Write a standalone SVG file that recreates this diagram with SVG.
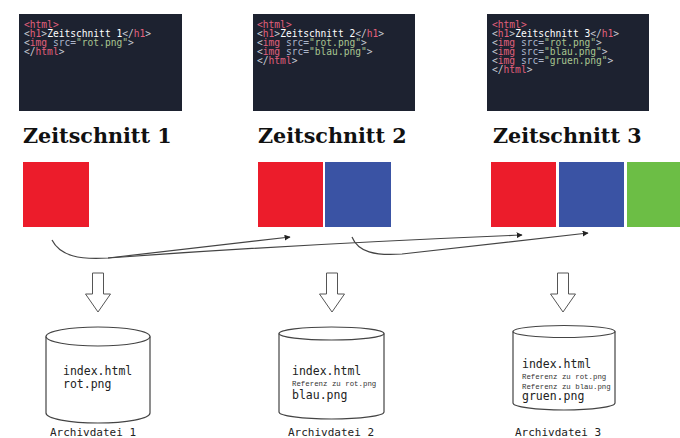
<svg xmlns="http://www.w3.org/2000/svg" width="680" height="438" viewBox="0 0 680 438">
<style>
.code{fill:#1d2230}
.ct{font-family:"DejaVu Sans Mono","Liberation Mono",monospace;font-size:9.6px;fill:#ffffff}
.tg{fill:#e2607c}
.pn{fill:#c8ccd4}
.at{fill:#aab4c8}
.st{fill:#a9c690}
.hd{font-family:"DejaVu Serif","Liberation Serif",serif;font-weight:bold;font-size:20.7px;fill:#111}
.red{fill:#ec1c2b}
.blue{fill:#3a53a4}
.green{fill:#6cbe45}
.conn{fill:none;stroke:#444;stroke-width:1.2}
.down{fill:#fff;stroke:#555;stroke-width:1}
.cyl{fill:#fff;stroke:#444;stroke-width:1.2}
.ft{font-family:"DejaVu Sans Mono","Liberation Mono",monospace;font-size:11.5px;fill:#222}
.sm{font-family:"Liberation Mono","DejaVu Sans Mono",monospace;font-size:7.4px;fill:#333}
.lb{font-family:"DejaVu Sans Mono","Liberation Mono",monospace;font-size:11px;fill:#222}
</style>
<defs>
<marker id="ah" viewBox="0 0 10 10" refX="9" refY="5" markerWidth="5" markerHeight="5" orient="auto">
<path d="M0,0 L10,5 L0,10 z" fill="#222"/>
</marker>
</defs>
<rect width="680" height="438" fill="#fff"/>

<g id="code1">
<rect class="code" x="19" y="14" width="163" height="97"/>
<text class="ct" x="24" y="28"><tspan class="tg">&lt;html&gt;</tspan></text>
<text class="ct" x="24" y="37"><tspan class="pn">&lt;</tspan><tspan class="tg">h1</tspan><tspan class="pn">&gt;</tspan>Zeitschnitt 1<tspan class="pn">&lt;/</tspan><tspan class="tg">h1</tspan><tspan class="pn">&gt;</tspan></text>
<text class="ct" x="24" y="46"><tspan class="pn">&lt;</tspan><tspan class="tg">img</tspan> <tspan class="at">src=</tspan><tspan class="st">"rot.png"</tspan><tspan class="pn">&gt;</tspan></text>
<text class="ct" x="24" y="55"><tspan class="pn">&lt;/</tspan><tspan class="tg">html</tspan><tspan class="pn">&gt;</tspan></text>
</g>

<g id="code2">
<rect class="code" x="253" y="14" width="162" height="97"/>
<text class="ct" x="257" y="28"><tspan class="tg">&lt;html&gt;</tspan></text>
<text class="ct" x="257" y="37"><tspan class="pn">&lt;</tspan><tspan class="tg">h1</tspan><tspan class="pn">&gt;</tspan>Zeitschnitt 2<tspan class="pn">&lt;/</tspan><tspan class="tg">h1</tspan><tspan class="pn">&gt;</tspan></text>
<text class="ct" x="257" y="46"><tspan class="pn">&lt;</tspan><tspan class="tg">img</tspan> <tspan class="at">src=</tspan><tspan class="st">"rot.png"</tspan><tspan class="pn">&gt;</tspan></text>
<text class="ct" x="257" y="55"><tspan class="pn">&lt;</tspan><tspan class="tg">img</tspan> <tspan class="at">src=</tspan><tspan class="st">"blau.png"</tspan><tspan class="pn">&gt;</tspan></text>
<text class="ct" x="257" y="64"><tspan class="pn">&lt;/</tspan><tspan class="tg">html</tspan><tspan class="pn">&gt;</tspan></text>
</g>

<g id="code3">
<rect class="code" x="487" y="14" width="162" height="97"/>
<text class="ct" x="492" y="28"><tspan class="tg">&lt;html&gt;</tspan></text>
<text class="ct" x="492" y="37"><tspan class="pn">&lt;</tspan><tspan class="tg">h1</tspan><tspan class="pn">&gt;</tspan>Zeitschnitt 3<tspan class="pn">&lt;/</tspan><tspan class="tg">h1</tspan><tspan class="pn">&gt;</tspan></text>
<text class="ct" x="492" y="46"><tspan class="pn">&lt;</tspan><tspan class="tg">img</tspan> <tspan class="at">src=</tspan><tspan class="st">"rot.png"</tspan><tspan class="pn">&gt;</tspan></text>
<text class="ct" x="492" y="55"><tspan class="pn">&lt;</tspan><tspan class="tg">img</tspan> <tspan class="at">src=</tspan><tspan class="st">"blau.png"</tspan><tspan class="pn">&gt;</tspan></text>
<text class="ct" x="492" y="64"><tspan class="pn">&lt;</tspan><tspan class="tg">img</tspan> <tspan class="at">src=</tspan><tspan class="st">"gruen.png"</tspan><tspan class="pn">&gt;</tspan></text>
<text class="ct" x="492" y="73"><tspan class="pn">&lt;/</tspan><tspan class="tg">html</tspan><tspan class="pn">&gt;</tspan></text>
</g>

<g id="head1"><text class="hd" x="23" y="143">Zeitschnitt 1</text></g>
<g id="head2"><text class="hd" x="258" y="143">Zeitschnitt 2</text></g>
<g id="head3"><text class="hd" x="493" y="143">Zeitschnitt 3</text></g>

<g id="images1">
<rect class="red" x="23" y="162" width="66" height="65"/>
</g>
<g id="images2">
<rect class="red" x="258" y="162" width="65" height="65"/>
<rect class="blue" x="325" y="162" width="66" height="65"/>
</g>
<g id="images3">
<rect class="red" x="491" y="162" width="65" height="65"/>
<rect class="blue" x="559" y="162" width="65" height="65"/>
<rect class="green" x="627" y="162" width="53" height="65"/>
</g>

<g id="connectors">
<path class="conn" d="M52,240 C60,256 80,260 108,258 L290,237" marker-end="url(#ah)"/>
<path class="conn" d="M108,258 Q300,244 522,235" marker-end="url(#ah)"/>
<path class="conn" d="M352,237 C358,252 375,256 402,254 L588,233" marker-end="url(#ah)"/>
</g>

<g id="down1"><path class="down" d="M92.5,273 H103.5 V294 H110.5 L98,312 L85.5,294 H92.5 Z"/></g>
<g id="down2"><path class="down" d="M326.5,273 H337.5 V294 H344.5 L332,312 L319.5,294 H326.5 Z"/></g>
<g id="down3"><path class="down" d="M557.5,273 H568.5 V294 H575.5 L563,312 L550.5,294 H557.5 Z"/></g>

<g id="archive1">
<path class="cyl" d="M46,336.5 V413 A52,10 0 0 0 150,413 V336.5"/>
<ellipse class="cyl" cx="98" cy="336.5" rx="52" ry="9.5"/>
<text class="ft" x="63" y="375">index.html</text>
<text class="ft" x="63" y="388">rot.png</text>
<text class="lb" x="50" y="436">Archivdatei 1</text>
</g>

<g id="archive2">
<path class="cyl" d="M279,333.5 V412 A52.5,7 0 0 0 384,412 V333.5"/>
<ellipse class="cyl" cx="331.5" cy="333.5" rx="52.5" ry="6.5"/>
<text class="ft" x="292" y="375">index.html</text>
<text class="sm" x="292" y="386">Referenz zu rot.png</text>
<text class="ft" x="292" y="399">blau.png</text>
<text class="lb" x="288" y="436">Archivdatei 2</text>
</g>

<g id="archive3">
<path class="cyl" d="M513,331.5 V403 A51,7 0 0 0 615,403 V331.5"/>
<ellipse class="cyl" cx="564" cy="331.5" rx="51" ry="6"/>
<text class="ft" x="522" y="368">index.html</text>
<text class="sm" x="522" y="379">Referenz zu rot.png</text>
<text class="sm" x="522" y="389">Referenz zu blau.png</text>
<text class="ft" x="522" y="400">gruen.png</text>
<text class="lb" x="515" y="436">Archivdatei 3</text>
</g>
</svg>
